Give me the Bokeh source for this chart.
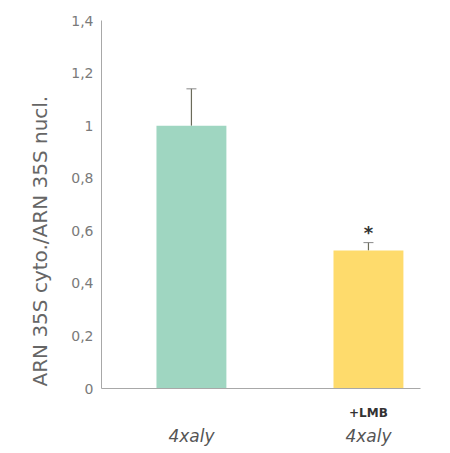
from bokeh.plotting import figure
from bokeh.models import Range1d, FixedTicker, Whisker, ColumnDataSource, Label, TeeHead, LinearAxis, Title
from bokeh.embed import file_html
from bokeh.resources import INLINE

categories = ["4xaly", "4xaly"]
treatments = ["", "+LMB"]
values = [1.0, 0.525]
errors = [0.14, 0.03]
bar_colors = ["#9fd6c1", "#fedb6c"]
y_ticks = [0, 0.2, 0.4, 0.6, 0.8, 1.0, 1.2, 1.4]
y_tick_labels = ["0", "0,2", "0,4", "0,6", "0,8", "1", "1,2", "1,4"]
y_title = "ARN 35S cyto./ARN 35S  nucl."
signif = ["", "*"]

xs = [i + 1 for i in range(len(categories))]
FONT = "DejaVu Sans"

p = figure(width=440, height=448, output_backend="svg", toolbar_location=None,
           x_range=Range1d(0.492, 2.294), y_range=Range1d(0, 1.4),
           min_border_left=101, min_border_top=20, min_border_right=20, min_border_bottom=60)
p.outline_line_color = None
p.grid.visible = False
p.background_fill_color = "white"

src = ColumnDataSource(dict(x=xs, top=values, color=bar_colors,
                            upper=[v + e for v, e in zip(values, errors)], base=values))
p.vbar(x="x", top="top", width=0.395, color="color", source=src, line_color=None)
p.add_layout(Whisker(source=src, base="x", upper="upper", lower="base", dimension="height",
                     line_color="#6b6b5a", line_width=1.2,
                     upper_head=TeeHead(size=10, line_color="#888888", line_width=1),
                     lower_head=None))

# significance marks
for x, v, e, s in zip(xs, values, errors, signif):
    if s:
        p.add_layout(Label(x=x, y=v + e + 0.04, text=s, text_align="center", text_baseline="middle",
                           text_font=FONT, text_font_size="18px", text_font_style="bold",
                           text_color="#333333"))

# y axis
ya = p.yaxis[0]
ya.ticker = FixedTicker(ticks=y_ticks)
ya.major_label_overrides = {t: l for t, l in zip(y_ticks, y_tick_labels)}
ya.major_tick_line_color = None
ya.major_tick_out = 0
ya.minor_tick_line_color = None
ya.axis_line_color = "#a8a8a8"
ya.major_label_text_color = "#7a7a7a"
ya.major_label_text_font = FONT
ya.major_label_text_font_size = "14px"
ya.major_label_standoff = 8

p.add_layout(Title(text=y_title, align="left", vertical_align="top", offset=2, standoff=30,
                   text_font=FONT, text_font_size="20px", text_font_style="normal",
                   text_color="#666666"), "left")

# x axis: treatment line (close to the axis)
xa = p.xaxis[0]
xa.ticker = FixedTicker(ticks=xs)
xa.major_label_overrides = {x: t for x, t in zip(xs, treatments)}
xa.major_label_text_font = FONT
xa.major_label_text_font_size = "12px"
xa.major_label_text_font_style = "bold"
xa.major_label_text_color = "#333333"
xa.major_label_standoff = 17
xa.major_tick_line_color = None
xa.major_tick_out = 0
xa.minor_tick_line_color = None
xa.axis_line_color = "#a8a8a8"

# x axis: category line
xa2 = LinearAxis(ticker=FixedTicker(ticks=xs),
                 major_label_overrides={x: c for x, c in zip(xs, categories)})
xa2.major_label_text_font = FONT
xa2.major_label_text_font_size = "17px"
xa2.major_label_text_font_style = "italic"
xa2.major_label_text_color = "#555555"
xa2.major_label_standoff = 3
xa2.major_tick_line_color = None
xa2.major_tick_out = 0
xa2.minor_tick_line_color = None
xa2.axis_line_color = None
p.add_layout(xa2, "below")

open("out.html", "w").write(file_html(p, INLINE))
